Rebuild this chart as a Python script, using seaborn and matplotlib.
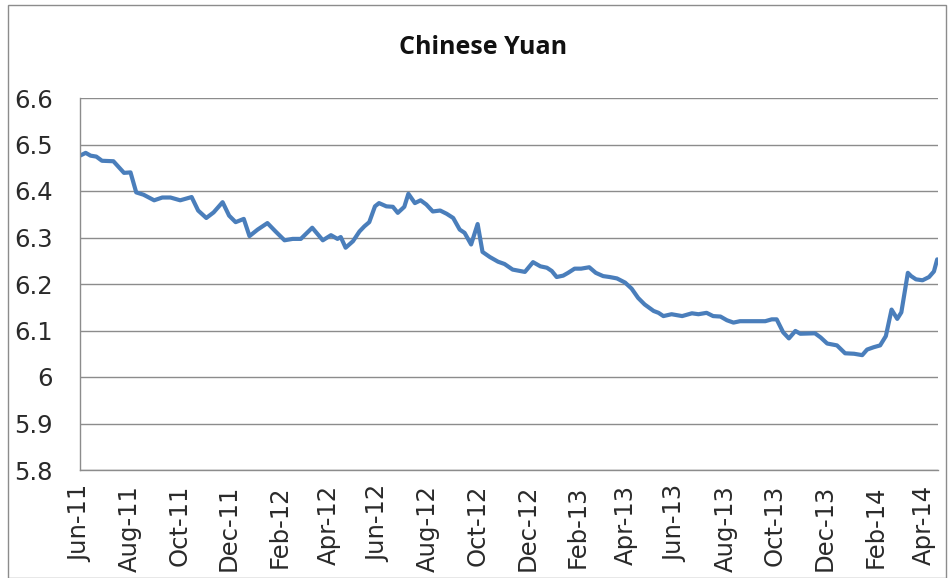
import matplotlib
matplotlib.use("Agg")
import matplotlib.pyplot as plt
import matplotlib.dates as mdates
from matplotlib.ticker import FuncFormatter
from matplotlib.patches import Rectangle
import pandas as pd
import seaborn as sns

dates = [
    "2011-06-01", "2011-06-08", "2011-06-14", "2011-06-21", "2011-06-28", "2011-07-12",
    "2011-07-25", "2011-08-02", "2011-08-09", "2011-08-18", "2011-08-31", "2011-09-10",
    "2011-09-20", "2011-10-02", "2011-10-16", "2011-10-24", "2011-11-03", "2011-11-12",
    "2011-11-23", "2011-12-01", "2011-12-09", "2011-12-19", "2011-12-26", "2012-01-05",
    "2012-01-17", "2012-01-27", "2012-02-07", "2012-02-17", "2012-02-27", "2012-03-12",
    "2012-03-25", "2012-04-04", "2012-04-12", "2012-04-16", "2012-04-22", "2012-05-01",
    "2012-05-09", "2012-05-15", "2012-05-21", "2012-05-28", "2012-06-02", "2012-06-11",
    "2012-06-19", "2012-06-25", "2012-07-03", "2012-07-08", "2012-07-16", "2012-07-23",
    "2012-07-30", "2012-08-07", "2012-08-16", "2012-08-24", "2012-09-01", "2012-09-09",
    "2012-09-15", "2012-09-23", "2012-10-01", "2012-10-07", "2012-10-16", "2012-10-26",
    "2012-11-03", "2012-11-13", "2012-11-28", "2012-12-08", "2012-12-17", "2012-12-25",
    "2012-12-31", "2013-01-06", "2013-01-14", "2013-01-20", "2013-01-28", "2013-02-05",
    "2013-02-15", "2013-02-23", "2013-03-04", "2013-03-12", "2013-03-21", "2013-03-31",
    "2013-04-08", "2013-04-16", "2013-04-24", "2013-05-05", "2013-05-11", "2013-05-17",
    "2013-05-27", "2013-06-09", "2013-06-21", "2013-06-29", "2013-07-09", "2013-07-17",
    "2013-07-26", "2013-08-03", "2013-08-11", "2013-08-19", "2013-09-03", "2013-09-19",
    "2013-09-27", "2013-10-03", "2013-10-11", "2013-10-18", "2013-10-26", "2013-11-01",
    "2013-11-19", "2013-11-26", "2013-12-04", "2013-12-16", "2013-12-26", "2014-01-06",
    "2014-01-16", "2014-01-22", "2014-01-30", "2014-02-07", "2014-02-14", "2014-02-21",
    "2014-02-28", "2014-03-05", "2014-03-13", "2014-03-17", "2014-03-23", "2014-03-31",
    "2014-04-08", "2014-04-14", "2014-04-18",
]
values = [
    6.476, 6.482, 6.476, 6.474, 6.465, 6.464,
    6.439, 6.440, 6.397, 6.392, 6.380, 6.386,
    6.386, 6.380, 6.387, 6.358, 6.342, 6.354,
    6.376, 6.347, 6.333, 6.340, 6.303, 6.317,
    6.331, 6.313, 6.294, 6.297, 6.297, 6.321,
    6.294, 6.305, 6.297, 6.301, 6.278, 6.292,
    6.313, 6.324, 6.333, 6.367, 6.374, 6.367,
    6.366, 6.353, 6.366, 6.394, 6.374, 6.380,
    6.371, 6.356, 6.358, 6.351, 6.342, 6.317,
    6.310, 6.285, 6.329, 6.269, 6.258, 6.248,
    6.243, 6.231, 6.226, 6.247, 6.238, 6.235,
    6.228, 6.215, 6.218, 6.224, 6.233, 6.233,
    6.236, 6.224, 6.217, 6.215, 6.212, 6.203,
    6.190, 6.170, 6.156, 6.142, 6.138, 6.131,
    6.135, 6.131, 6.137, 6.135, 6.138, 6.131,
    6.130, 6.122, 6.117, 6.120, 6.120, 6.120,
    6.124, 6.124, 6.096, 6.083, 6.099, 6.093,
    6.094, 6.085, 6.072, 6.068, 6.051, 6.050,
    6.047, 6.059, 6.064, 6.068, 6.088, 6.145,
    6.125, 6.139, 6.224, 6.217, 6.210, 6.208,
    6.215, 6.227, 6.253,
]
title = "Chinese Yuan"
y_ticks = [5.8, 5.9, 6.0, 6.1, 6.2, 6.3, 6.4, 6.5, 6.6]

df = pd.DataFrame({"date": pd.to_datetime(dates), "rate": values})

sns.set_theme(style="white")
plt.rcParams["font.family"] = ["DejaVu Sans"]

fig = plt.figure(figsize=(9.51, 5.78), dpi=100)
ax = fig.add_axes([80 / 951, 1 - 470 / 578, (938 - 80) / 951, (470 - 98) / 578])

sns.lineplot(data=df, x="date", y="rate", ax=ax, color="#4A7EBB", linewidth=3.0)

ax.set_ylim(5.8, 6.6)
ax.set_yticks(y_ticks)
ax.yaxis.set_major_formatter(FuncFormatter(lambda v, p: f"{v:g}"))
ax.set_xlim(pd.Timestamp("2011-06-01"), pd.Timestamp("2014-04-19"))
ax.xaxis.set_major_locator(mdates.MonthLocator(bymonth=[2, 4, 6, 8, 10, 12]))
ax.xaxis.set_major_formatter(mdates.DateFormatter("%b-%y"))

ax.grid(axis="y", color="#8c8c8c", linewidth=1.0)
ax.grid(axis="x", visible=False)
ax.set_axisbelow(True)
for s in ["top", "right"]:
    ax.spines[s].set_visible(False)
for s in ["left", "bottom"]:
    ax.spines[s].set_color("#8c8c8c")
    ax.spines[s].set_linewidth(1.0)

ax.tick_params(axis="both", which="major", direction="out", length=3.8, width=1,
               color="#8c8c8c", labelcolor="#2a2a2a", labelsize=17.5)
ax.tick_params(axis="y", pad=16)
ax.tick_params(axis="x", labelrotation=90, pad=7)
ax.set_xlabel("")
ax.set_ylabel("")

fig.text(483 / 951, 1 - 47 / 578, title, ha="center", va="center",
         fontsize=18, fontweight="bold", family=["Open Sans", "DejaVu Sans"], color="#111111")

fig.patches.append(Rectangle((8 / 951, 0.0), (946 - 8) / 951, 1 - 5 / 578,
                             transform=fig.transFigure, fill=False,
                             edgecolor="#8c8c8c", linewidth=1.0))

fig.savefig("out.png", dpi=100)
